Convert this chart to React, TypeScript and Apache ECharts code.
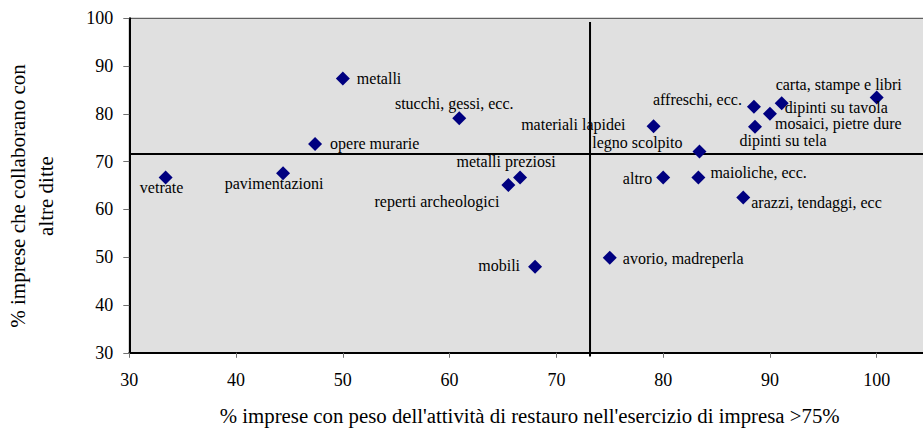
import React, { useEffect, useRef } from "react";
import * as echarts from "echarts";

const names = [
  "metalli",
  "stucchi, gessi, ecc.",
  "opere murarie",
  "vetrate",
  "pavimentazioni",
  "reperti archeologici",
  "metalli preziosi",
  "materiali lapidei",
  "legno scolpito",
  "affreschi, ecc.",
  "carta, stampe e libri",
  "dipinti su tavola",
  "mosaici, pietre dure",
  "dipinti su tela",
  "altro",
  "maioliche, ecc.",
  "arazzi, tendaggi, ecc",
  "mobili",
  "avorio, madreperla",
];

// % imprese con peso dell'attività di restauro > 75%
const xValues = [50.0, 60.9, 47.4, 33.4, 44.4, 65.5, 66.6, 79.1, 83.4, 88.5, 100.0, 91.1, 90.0, 88.6, 80.0, 83.3, 87.5, 68.0, 75.0];
// % imprese che collaborano con altre ditte
const yValues = [87.4, 79.1, 73.7, 66.7, 67.6, 65.1, 66.7, 77.4, 72.1, 81.5, 83.4, 82.2, 80.0, 77.3, 66.7, 66.7, 62.5, 48.0, 49.9];

// reference lines (averages)
const xMean = 73.15;
const yMean = 71.6;

const xTicks = [30, 40, 50, 60, 70, 80, 90, 100];
const yTicks = [30, 40, 50, 60, 70, 80, 90, 100];

const xTitle = "% imprese con peso dell'attività di restauro nell'esercizio di impresa >75%";
const yTitle = "% imprese che collaborano con\naltre ditte";

// label placement relative to each marker (layout only)
const labelLayout: [number, number, string][] = [
  [14, 0, "left"],
  [-5, -15, "center"],
  [15, 0, "left"],
  [-4, 10, "center"],
  [-9, 10, "center"],
  [-9, 16, "right"],
  [-14, -16, "center"],
  [-28, -2, "right"],
  [-17, -9, "right"],
  [-12, -7, "right"],
  [-38, -13, "center"],
  [3, 4.5, "left"],
  [5, 9.6, "left"],
  [28, 14, "center"],
  [-11, 1, "right"],
  [12, -5, "left"],
  [8, 5, "left"],
  [-15, -1, "right"],
  [13, 1, "left"],
];

const FONT = "Liberation Serif, serif";

export default function App() {
  const ref = useRef<HTMLDivElement>(null);
  useEffect(() => {
    if (!ref.current) return;
    const chart = echarts.init(ref.current, undefined, { renderer: "svg" });
    const data = names.map((n, i) => ({
      name: n,
      value: [xValues[i], yValues[i]],
      label: {
        show: true,
        formatter: n,
        position: "inside",
        align: labelLayout[i][2],
        verticalAlign: "middle",
        offset: [labelLayout[i][0], labelLayout[i][1]],
        color: "#000",
        fontFamily: FONT,
        fontSize: 16,
        lineHeight: 15,
      },
    }));
    chart.setOption({
      animation: false,
      textStyle: { fontFamily: FONT },
      grid: {
        left: 129.3,
        top: 18.3,
        width: 800.8,
        height: 334.5,
        containLabel: false,
        outerBoundsMode: "none",
        show: true,
        backgroundColor: "#e0e0e0",
        borderColor: "#404040",
        borderWidth: 1,
      },
      graphic: [
        {
          type: "text",
          x: 32,
          y: 196,
          rotation: Math.PI / 2,
          style: {
            text: yTitle,
            fill: "#000",
            font: "21px " + FONT,
            align: "center",
            verticalAlign: "middle",
            lineHeight: 28,
          },
        },
      ],
      xAxis: {
        type: "value",
        min: 30,
        max: 105,
        interval: 10,
        splitLine: { show: false },
        axisLine: { show: true, onZero: false, lineStyle: { color: "#000", width: 2 } },
        axisTick: { show: true, length: 5, lineStyle: { color: "#707070", width: 1 } },
        axisLabel: {
          showMaxLabel: false,
          margin: 18,
          color: "#000",
          fontFamily: FONT,
          fontSize: 18,
          formatter: (v: number) => (xTicks.includes(v) ? String(v) : ""),
        },
        name: xTitle,
        nameLocation: "middle",
        nameGap: 52,
        nameTextStyle: { color: "#000", fontFamily: FONT, fontSize: 20.8 },
      },
      yAxis: {
        type: "value",
        min: 30,
        max: 100,
        interval: 10,
        splitLine: { show: false },
        axisLine: { show: true, onZero: false, lineStyle: { color: "#000", width: 2 } },
        axisTick: { show: true, length: 6, lineStyle: { color: "#707070", width: 1 } },
        axisLabel: {
          margin: 16,
          color: "#000",
          fontFamily: FONT,
          fontSize: 18,
          formatter: (v: number) => (yTicks.includes(v) ? String(v) : ""),
        },
      },
      series: [
        {
          type: "line",
          data: [
            [xMean, 99.2],
            [xMean, 29.2],
          ],
          symbol: "none",
          clip: false,
          silent: true,
          lineStyle: { color: "#000", width: 2 },
          z: 1,
        },
        {
          type: "line",
          data: [
            [30, yMean],
            [105, yMean],
          ],
          symbol: "none",
          silent: true,
          lineStyle: { color: "#000", width: 2 },
          z: 1,
        },
        {
          type: "scatter",
          symbol: "diamond",
          symbolSize: 14,
          itemStyle: { color: "#000080", opacity: 1 },
          data,
          z: 3,
        },
      ],
    });
    return () => chart.dispose();
  }, []);
  return (
    <div style={{ position: "fixed", left: 0, top: 0, width: 923, height: 428, overflow: "hidden", background: "#fff" }}>
      <div ref={ref} style={{ width: 940, height: 428 }} />
    </div>
  );
}
